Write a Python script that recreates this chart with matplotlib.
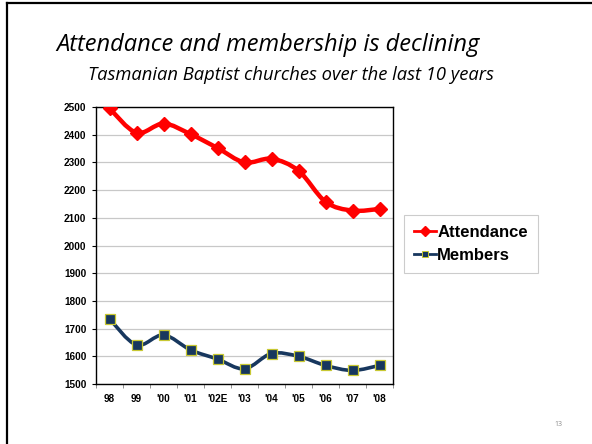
import matplotlib.pyplot as plt
from matplotlib.path import Path
from matplotlib.patches import PathPatch
from matplotlib.lines import Line2D
import numpy as np

years = ["98", "99", "'00", "'01", "'02E", "'03", "'04", "'05", "'06", "'07", "'08"]
attendance = [2495, 2407, 2440, 2402, 2352, 2300, 2313, 2270, 2158, 2126, 2132]
members = [1735, 1641, 1677, 1623, 1590, 1555, 1610, 1600, 1567, 1549, 1567]

RED = "#FF0000"
NAVY = "#17375E"


def smooth_path(x, y):
    # Excel-style smoothed line: Catmull-Rom segments as cubic Beziers
    pts = np.column_stack([x, y]).astype(float)
    verts = [pts[0]]
    codes = [Path.MOVETO]
    n = len(pts)
    for i in range(n - 1):
        p0 = pts[max(i - 1, 0)]
        p1 = pts[i]
        p2 = pts[i + 1]
        p3 = pts[min(i + 2, n - 1)]
        c1 = p1 + (p2 - p0) / 6.0
        c2 = p2 - (p3 - p1) / 6.0
        verts += [c1, c2, p2]
        codes += [Path.CURVE4] * 3
    return Path(verts, codes)


fig = plt.figure(figsize=(5.92, 4.44), dpi=100)

# slide frame (left and top edges)
fig.add_artist(Line2D([7 / 592, 7 / 592], [0, 1 - 3 / 444], color="black", lw=1.6))
fig.add_artist(Line2D([7 / 592, 1], [1 - 3 / 444, 1 - 3 / 444], color="black", lw=1.6))

fig.text(0.452, 0.899, "Attendance and membership is declining", ha="center", va="center",
         fontsize=17, style="italic", family="Open Sans")
fig.text(0.492, 0.831, "Tasmanian Baptist churches over the last 10 years", ha="center",
         va="center", fontsize=13.2, style="italic", family="Open Sans")
fig.text(0.944, 0.045, "13", ha="center", va="center", fontsize=5, color="#8c8c8c",
         family="Open Sans")

ax = fig.add_axes([96 / 592, 1 - 384 / 444, 297 / 592, 277 / 444])
x = np.arange(len(years))

for vals, col, w in [(attendance, RED, 3.2), (members, NAVY, 2.6)]:
    ax.add_patch(PathPatch(smooth_path(x, vals), fill=False, edgecolor=col, lw=w,
                           capstyle="round", joinstyle="round", zorder=3))

ax.plot(x, attendance, linestyle="none", marker="D", markersize=7, color=RED,
        markeredgecolor=RED, zorder=4)
ax.plot(x, members, linestyle="none", marker="s", markersize=7, color=NAVY,
        markeredgecolor="#C8C832", markeredgewidth=0.9, zorder=4)

ax.set_xlim(-0.5, len(years) - 0.5)
ax.set_ylim(1500, 2500)
ax.set_yticks(np.arange(1500, 2501, 100))
ax.yaxis.grid(True, color="#c8c8c8", lw=0.9)
ax.set_axisbelow(True)
ax.set_xticks(x)
ax.set_xticklabels(years)
ax.set_xticks(np.arange(-0.5, len(years), 1), minor=True)
ax.tick_params(axis="x", which="major", length=0, pad=7)
ax.tick_params(axis="x", which="minor", length=3, color="#808080", direction="out")
ax.tick_params(axis="y", length=3, direction="out", pad=4)
for lab in ax.get_xticklabels() + ax.get_yticklabels():
    lab.set_fontsize(7.2)
    lab.set_fontweight("bold")
    lab.set_family("Liberation Sans")
for s in ax.spines.values():
    s.set_color("black")
    s.set_linewidth(1.0)

h1 = Line2D([], [], color=RED, lw=2, marker="D", markersize=5)
h2 = Line2D([], [], color=NAVY, lw=2, marker="s", markersize=5, markeredgecolor="#C8C832",
            markeredgewidth=0.7)
leg = fig.legend([h1, h2], ["Attendance", "Members"], loc="center",
                 bbox_to_anchor=(471 / 592, 1 - 244 / 444), frameon=True, fancybox=False,
                 prop={"family": "Liberation Sans", "weight": "bold", "size": 12},
                 handlelength=1.3, handletextpad=0.1, labelspacing=0.5, borderpad=0.6,
                 edgecolor="#c0c0c0")
leg.get_frame().set_linewidth(0.8)

fig.savefig("out.png", dpi=100)
